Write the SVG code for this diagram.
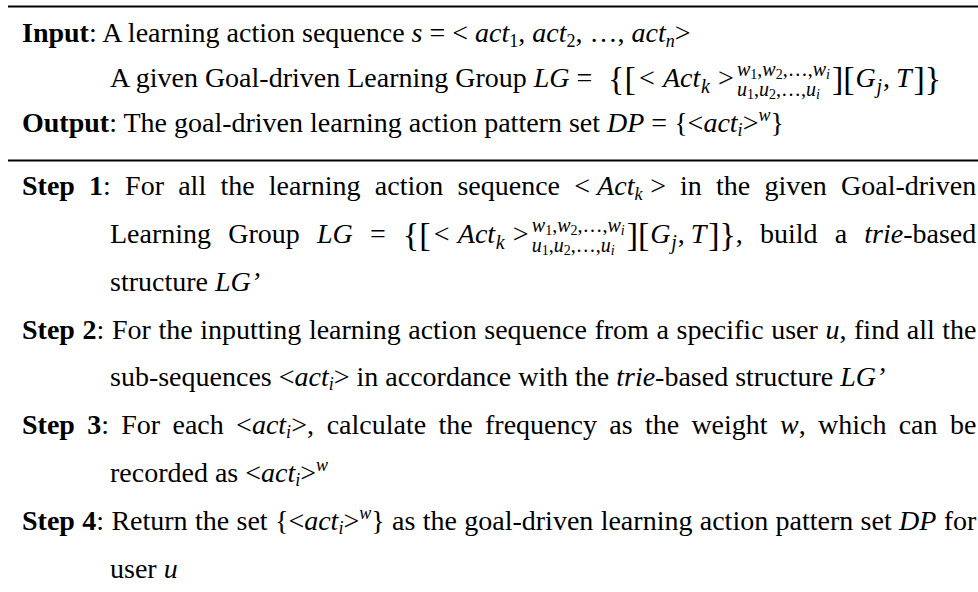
<svg xmlns="http://www.w3.org/2000/svg" width="978" height="592" viewBox="0 0 978 592">
<style>
  .t{font-family:"Liberation Serif","Times New Roman",serif;font-size:28px;fill:#000}
  .b{font-weight:bold}
  .i{font-style:italic}
  .s{font-size:18px}
  .br{font-size:34px}
  .sc{font-size:20px}
  .ss{font-size:14px}
  .rule{stroke:#000;stroke-width:2.2;fill:none}
</style>
<defs>
  <!-- learning group set: {[<Act_k>^{w..}_{u..}][G_j, T]} laid out from its left edge, baseline at 0 -->
  <g id="lgset">
    <text class="t br" x="0" y="3">{</text>
    <text class="t br" x="16.5" y="3">[</text>
    <text class="t" x="31" y="0">&lt;</text>
    <text class="t i" x="55" y="0">Act</text>
    <text class="t i sc" x="93" y="6">k</text>
    <text class="t" x="110" y="0">&gt;</text>
    <text class="t sc" x="129" y="-11"><tspan class="i">w</tspan><tspan class="ss" dy="3">1</tspan><tspan dy="-3">,</tspan><tspan class="i">w</tspan><tspan class="ss" dy="3">2</tspan><tspan dy="-3">,…,</tspan><tspan class="i">w</tspan><tspan class="ss i" dy="3">i</tspan></text>
    <text class="t sc" x="129" y="9"><tspan class="i">u</tspan><tspan class="ss" dy="3">1</tspan><tspan dy="-3">,</tspan><tspan class="i">u</tspan><tspan class="ss" dy="3">2</tspan><tspan dy="-3">,…,</tspan><tspan class="i">u</tspan><tspan class="ss i" dy="3">i</tspan></text>
    <text class="t br" x="224" y="3">]</text>
    <text class="t br" x="235.3" y="3">[</text>
    <text class="t i" x="247.5" y="0">G</text>
    <text class="t i sc" x="268.5" y="6">j</text>
    <text class="t" x="275" y="0">,</text>
    <text class="t i" x="288" y="0">T</text>
    <text class="t br" x="305.5" y="3">]</text>
    <text class="t br" x="316.8" y="3">}</text>
  </g>
</defs>

<rect x="0" y="0" width="978" height="592" fill="#fff"/>

<!-- table rules -->
<g id="rules">
  <line class="rule" x1="8" y1="6.5" x2="978" y2="6.5"/>
  <line class="rule" x1="8" y1="160.5" x2="978" y2="160.5"/>
</g>

<!-- input / output header -->
<g id="header">
  <text class="t" x="22" y="42"><tspan class="b">Input</tspan>: A learning action sequence <tspan class="i">s</tspan> = &lt; <tspan class="i">act</tspan><tspan class="s" dy="5">1</tspan><tspan dy="-5">, </tspan><tspan class="i">act</tspan><tspan class="s" dy="5">2</tspan><tspan dy="-5">, …, </tspan><tspan class="i">act</tspan><tspan class="s i" dy="5">n</tspan><tspan dy="-5">&gt;</tspan></text>
  <text class="t" x="110" y="87">A given Goal-driven Learning Group <tspan class="i">LG</tspan> = </text>
  <use href="#lgset" x="608" y="87"/>
  <text class="t" x="22" y="132"><tspan class="b">Output</tspan>: The goal-driven learning action pattern set <tspan class="i">DP</tspan> = {&lt;<tspan class="i">act</tspan><tspan class="s i" dy="4">i</tspan><tspan dy="-4">&gt;</tspan><tspan class="s i" dy="-11">w</tspan><tspan dy="11">}</tspan></text>
</g>

<!-- step 1 -->
<g id="step1">
  <text class="t" y="195"><tspan class="b" x="22">Step</tspan><tspan class="b" x="89.1">1</tspan><tspan>:</tspan><tspan x="125.1">For</tspan><tspan x="178.2">all</tspan><tspan x="220.4">the</tspan><tspan x="268.8">learning</tspan><tspan x="374.8">action</tspan><tspan x="457.4">sequence</tspan><tspan x="574.3">&lt;</tspan><tspan class="i" x="597.1">Act</tspan><tspan class="s i" dy="5">k</tspan><tspan x="650.3" dy="-5">&gt;</tspan><tspan x="680.1">in</tspan><tspan x="716.1">the</tspan><tspan x="764.5">given</tspan><tspan x="841">Goal-driven</tspan></text>
  <text class="t" y="243"><tspan x="110">Learning</tspan><tspan x="228.2">Group</tspan><tspan class="i" x="316.9">LG</tspan><tspan x="369.9">=</tspan></text>
  <use href="#lgset" x="402.8" y="243"/>
  <text class="t" y="243"><tspan x="735.8">,</tspan><tspan x="760">build</tspan><tspan x="834.7">a</tspan><tspan class="i" x="864.3">trie</tspan><tspan>-based</tspan></text>
  <text class="t" x="110" y="291">structure <tspan class="i">LG’</tspan></text>
</g>

<!-- step 2 -->
<g id="step2">
  <text class="t" x="22" y="339" word-spacing="0.6"><tspan class="b">Step 2</tspan>: For the inputting learning action sequence from a specific user <tspan class="i">u</tspan>, find all the</text>
  <text class="t" x="110" y="386">sub-sequences &lt;<tspan class="i">act</tspan><tspan class="s i" dy="4">i</tspan><tspan dy="-4">&gt; in accordance with the </tspan><tspan class="i">trie</tspan>-based structure <tspan class="i">LG’</tspan></text>
</g>

<!-- step 3 -->
<g id="step3">
  <text class="t" y="434"><tspan class="b" x="22">Step</tspan><tspan class="b" x="87.2">3</tspan><tspan>:</tspan><tspan x="121.3">For</tspan><tspan x="172.5">each</tspan><tspan x="236.1">&lt;</tspan><tspan class="i">act</tspan><tspan class="s i" dy="4">i</tspan><tspan dy="-4">&gt;,</tspan><tspan x="326.7">calculate</tspan><tspan x="438.5">the</tspan><tspan x="485">frequency</tspan><tspan x="609.3">as</tspan><tspan x="644.9">the</tspan><tspan x="691.4">weight</tspan><tspan class="i" x="780">w</tspan><tspan>,</tspan><tspan x="818">which</tspan><tspan x="898.7">can</tspan><tspan x="949.9">be</tspan></text>
  <text class="t" x="110" y="482">recorded as &lt;<tspan class="i">act</tspan><tspan class="s i" dy="4">i</tspan><tspan dy="-4">&gt;</tspan><tspan class="s i" dy="-11">w</tspan></text>
</g>

<!-- step 4 -->
<g id="step4">
  <text class="t" x="22" y="530" word-spacing="0.35"><tspan class="b">Step 4</tspan>: Return the set {&lt;<tspan class="i">act</tspan><tspan class="s i" dy="4">i</tspan><tspan dy="-4">&gt;</tspan><tspan class="s i" dy="-11">w</tspan><tspan dy="11">} as the goal-driven learning action pattern set </tspan><tspan class="i">DP</tspan> for</text>
  <text class="t" x="110" y="578">user <tspan class="i">u</tspan></text>
</g>
</svg>
